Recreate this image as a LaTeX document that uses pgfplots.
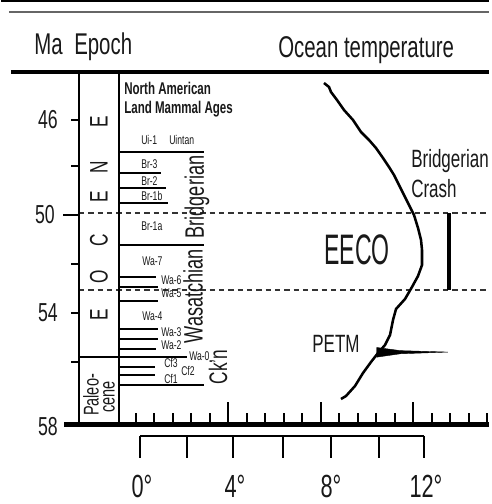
\documentclass[border=0pt]{standalone}
\usepackage{pgfplots}
\pgfplotsset{compat=1.18}
\usepackage{pgfplotstable}
\usepackage{fontspec}
\setmainfont{Liberation Sans}[FakeStretch=0.68]
\newfontfamily\eecofont{Liberation Sans}[FakeStretch=0.54]
\newcommand\fs[1]{\fontsize{#1}{#1}\selectfont}

% ocean temperature (deg C) against age (Ma)
\pgfplotstableread{
T      Ma
7.773  44.471
7.985  44.636
8.069  44.843
8.323  45.174
8.619  45.587
8.999  46.000
9.337  46.496
9.675  46.826
9.970  47.157
10.266 47.570
10.520 47.942
10.731 48.273
10.942 48.686
11.111 49.017
11.323 49.430
11.576 49.926
11.745 50.463
11.872 50.959
11.914 51.372
11.914 51.992
11.745 52.446
11.491 52.901
11.196 53.397
10.816 53.810
10.689 54.264
10.562 54.884
10.351 55.298
10.055 55.628
9.759  56.000
9.421  56.455
9.083  56.992
8.703  57.405
8.492  57.529
}\tempcurve

\begin{document}
\begin{tikzpicture}
\begin{axis}[
  scale only axis, width=366pt, height=378pt,
  xmin=-5.872, xmax=14.744,
  ymin=41.041, ymax=61.868, y dir=reverse,
  hide axis, clip=false,
  ]
  % EECO / age boundaries
  \addplot[black!80, line width=1.1pt, dash pattern=on 4pt off 3pt] coordinates {(-2.577,49.85) (14.744,49.85)};
  \addplot[black!80, line width=1.1pt, dash pattern=on 4pt off 3pt] coordinates {(-2.577,53.02) (14.744,53.02)};

  % NALMA boundaries
  \addplot[black, line width=2pt] coordinates {(-0.887,47.322) (2.704,47.322)};
  \addplot[black, line width=2pt] coordinates {(-0.887,48.190) (0.887,48.190)};
  \addplot[black, line width=2pt] coordinates {(-0.887,48.810) (1.098,48.810)};
  \addplot[black, line width=2pt] coordinates {(-0.887,49.430) (1.183,49.430)};
  \addplot[black, line width=2pt] coordinates {(-0.887,51.165) (2.704,51.165)};
  \addplot[black, line width=2pt] coordinates {(-0.887,52.488) (0.676,52.488)};
  \addplot[black, line width=2pt] coordinates {(-0.887,52.901) (0.760,52.901)};
  \addplot[black, line width=2pt] coordinates {(-0.887,53.479) (0.760,53.479)};
  \addplot[black, line width=2pt] coordinates {(-0.887,54.636) (0.760,54.636)};
  \addplot[black, line width=2pt] coordinates {(-0.887,55.050) (0.760,55.050)};
  \addplot[black, line width=2pt] coordinates {(-0.887,55.463) (0.676,55.463)};
  \addplot[black, line width=2pt] coordinates {(-2.577,55.793) (1.986,55.793)};
  \addplot[black, line width=2pt] coordinates {(-0.887,56.207) (0.634,56.207)};
  \addplot[black, line width=2pt] coordinates {(-0.887,56.537) (0.634,56.537)};
  \addplot[black, line width=2pt] coordinates {(-0.887,56.950) (2.704,56.950)};

  % temperature curve
  \addplot[black, line width=1.9pt] table[x=T, y=Ma] {\tempcurve};

  % PETM spike
  \addplot[black, fill=black, line width=0.3pt] coordinates {(10.00,55.40) (11.00,55.53) (13.01,55.59) (11.00,55.66) (10.00,55.80)} -- cycle;

  % EECO bar
  \addplot[black, line width=3pt] coordinates {(13.054,49.85) (13.054,53.02)};
\end{axis}

% frame, scales and labels in picture pixels (x right, y down)
\begin{scope}[shift={(0pt,378pt)}, x=0.75pt, y=-0.75pt, every node/.style={inner sep=0pt, text=black!90}]
  \path (0,0) rectangle (488,504);
  \draw[line width=1.5pt] (0,1) -- (488,1);
  \draw[line width=1pt, black!60] (8,12) -- (488,12);
  \draw[line width=3pt] (10,72) -- (488,72);

  \node[anchor=base west] at (33,55) {\fs{22.5}Ma};
  \node[anchor=base west] at (73,55) {\fs{22.5}Epoch};
  \node[anchor=base west] at (277,58) {\fs{22.5}Ocean temperature};

  % Ma axis and epoch column
  \draw[line width=1.6pt] (78,72) -- (78,425);
  \draw[line width=1.6pt] (118,72) -- (118,425);
  \foreach \yy/\lab in {120/46,166/,264/,313/54,362/}{
    \draw[line width=2.2pt] (70,\yy) -- (78,\yy);
    \node[anchor=east] at (57,\yy) {\fs{19.5}\lab};
  }
  \draw[line width=2.2pt] (62,215) -- (78,215);
  \node[anchor=east] at (54,215) {\fs{19.5}50};
  \node[anchor=east] at (57,427) {\fs{19.5}58};
  \draw[line width=3.75pt] (63,425) -- (488,425);

  \foreach \yy/\ch in {122/E,167/N,197/E,240/C,277/O,315/E}{
    \node[rotate=90] at (98,\yy) {\fs{19}\ch};
  }
  \node[rotate=90] at (90,395) {\fs{16}Paleo-};
  \node[rotate=90] at (108,397) {\fs{16}cene};

  % NALMA labels
  \node[anchor=base west] at (123,95) {\fs{12.75}\bfseries North American};
  \node[anchor=base west] at (123,114) {\fs{12.75}\bfseries Land Mammal Ages};
  \foreach \xx/\yy/\lab in {140/145/Ui-1,168/145/Uintan,140/169/Br-3,140/186/Br-2,
      140/201/Br-1b,140/231/Br-1a,141/266/Wa-7,160/285/Wa-6,160/298/Wa-5,
      141/321/Wa-4,160/337/Wa-3,160/350/Wa-2,188/361/Wa-0,163/368/Cf3,
      180/376/Cf2,163/384/Cf1}{
    \node[anchor=base west] at (\xx,\yy) {\fs{9.5}\lab};
  }
  \node[rotate=90] at (196,197) {\fs{20}Bridgerian};
  \node[rotate=90] at (192,296) {\fs{20}Wasatchian};
  \node[rotate=90] at (217,367) {\fs{19}Ck'n};

  % annotations
  \node[anchor=base west] at (410,168) {\fs{18.75}Bridgerian};
  \node[anchor=base west] at (410,198) {\fs{18.75}Crash};
  \node at (356,250) {\fs{32}\eecofont EECO};
  \node at (335,344) {\fs{18.75}PETM};

  % tick row above the bottom line
  \foreach \k in {0,...,19}{
    \pgfmathsetmacro\xx{134.5+18.5*\k}
    \draw[line width=1.5pt] (\xx,425) -- (\xx,413);
  }
  \foreach \xx in {227,319.5,412}{
    \draw[line width=1.5pt] (\xx,425) -- (\xx,402);
  }

  % temperature scale
  \draw[line width=1.8pt] (139,436) -- (423,436);
  \foreach \xx in {139,186,232,282,330,378,423}{
    \draw[line width=1.5pt] (\xx,436) -- (\xx,458);
  }
  \foreach \xx/\lab in {141/0,234/4,330/8,425/12}{
    \node[anchor=base] at (\xx,497) {\fs{24}\lab\textdegree};
  }
\end{scope}
\end{tikzpicture}
\end{document}
